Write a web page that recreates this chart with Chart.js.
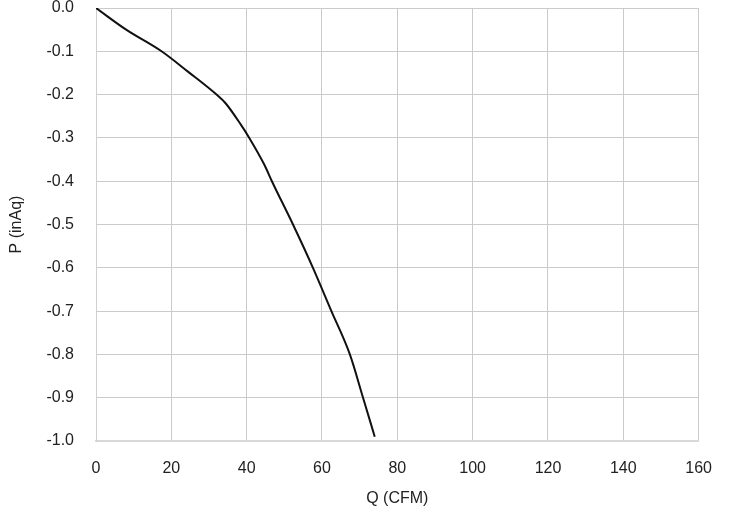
<!DOCTYPE html>
<html>
<head>
<meta charset="utf-8">
<script src="https://cdn.jsdelivr.net/npm/chart.js@4"></script>
<style>
html,body{margin:0;padding:0;background:#fff;}
#wrap{width:730px;height:515px;position:relative;}
</style>
</head>
<body>
<div id="wrap"><canvas id="c"></canvas></div>
<script>
const flowQ = [0, 8, 17.4, 24.4, 32, 34.4, 38.5, 40.7, 44.7, 46.7, 52.3, 57.6, 62.5, 67.4, 70.9, 74];
const pressureP = [0, -0.05, -0.1, -0.147, -0.2, -0.22, -0.27, -0.3, -0.362, -0.4, -0.5, -0.6, -0.7, -0.8, -0.9, -0.99];
const xTicks = [0, 20, 40, 60, 80, 100, 120, 140, 160];
const yTicks = [0, -0.1, -0.2, -0.3, -0.4, -0.5, -0.6, -0.7, -0.8, -0.9, -1.0];
const xTitle = 'Q (CFM)';
const yTitle = 'P (inAq)';

const pts = flowQ.map((q, i) => ({x: q, y: pressureP[i]}));
const font = {family: '"Liberation Sans", Arial, sans-serif', size: 16};

new Chart(document.getElementById('c'), {
  type: 'scatter',
  data: {datasets: [{
    data: pts, showLine: true, borderColor: '#111', borderWidth: 2,
    pointRadius: 0, cubicInterpolationMode: 'monotone', fill: false
  }]},
  options: {
    responsive: true, maintainAspectRatio: false, animation: false,
    layout: {padding: {left: 0, right: 31, top: 8, bottom: 0}},
    plugins: {legend: {display: false}, tooltip: {enabled: false}},
    scales: {
      x: {
        type: 'linear', min: 0, max: 160,
        afterBuildTicks: s => { s.ticks = xTicks.map(v => ({value: v})); },
        afterFit: s => { s.height = 74; },
        ticks: {font: font, color: '#222', padding: 18, maxRotation: 0},
        grid: {color: '#cbcbcb', lineWidth: 1, drawTicks: false},
        border: {color: '#d8d8d8', width: 2},
        title: {display: true, text: xTitle, font: font, color: '#222', padding: {top: 4, bottom: 7}}
      },
      y: {
        type: 'linear', min: -1, max: 0,
        afterBuildTicks: s => { s.ticks = yTicks.map(v => ({value: v})); },
        afterFit: s => { s.width = 96; s.paddingTop = 0; s.paddingBottom = 0; },
        ticks: {font: font, color: '#222', padding: 22, callback: v => Number(v).toFixed(1)},
        grid: {color: '#cbcbcb', lineWidth: 1, drawTicks: false},
        border: {color: '#d0d0d0', width: 1},
        title: {display: true, text: yTitle, font: font, color: '#222', padding: {top: 7, bottom: 4}}
      }
    }
  }
});
</script>
</body>
</html>
